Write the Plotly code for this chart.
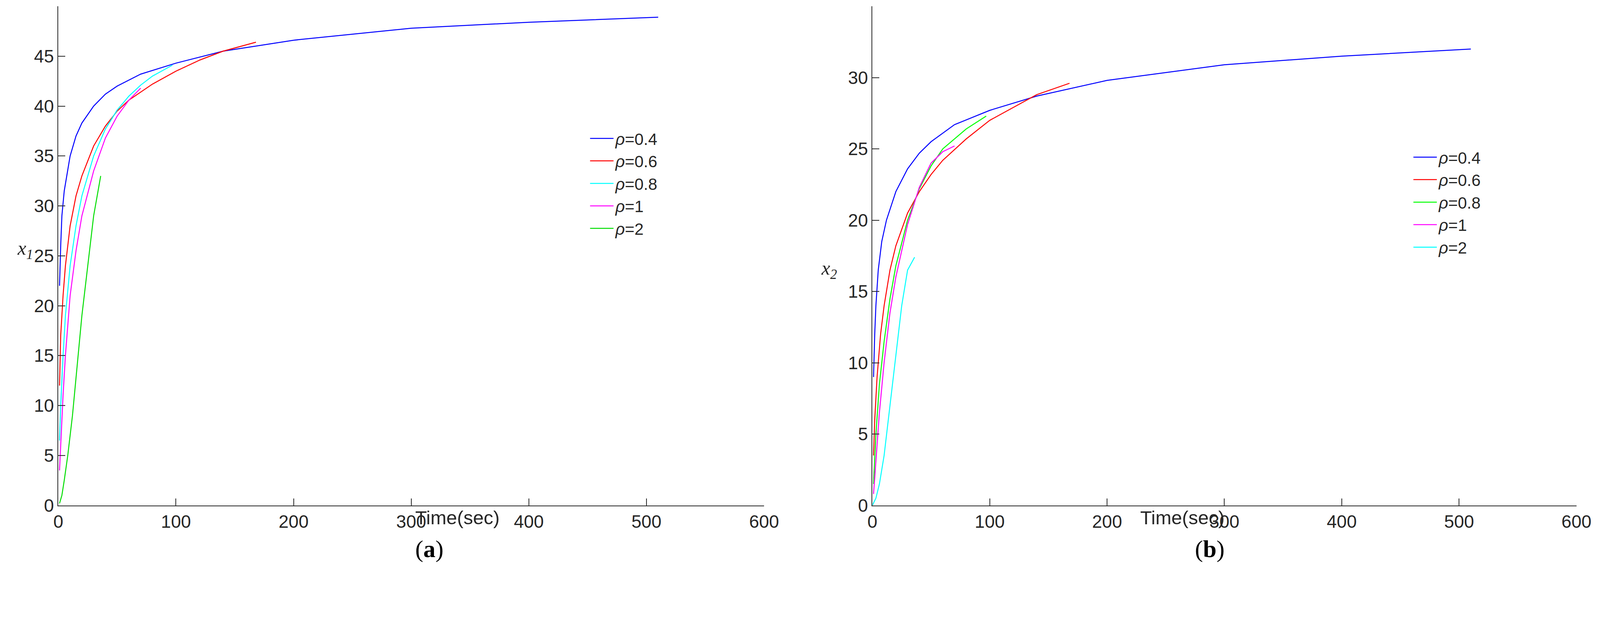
import plotly.graph_objects as go

labels = ["ρ=0.4", "ρ=0.6", "ρ=0.8", "ρ=1", "ρ=2"]

# x1 panel
a_t = [
    [1, 2, 3, 5, 10, 15, 20, 30, 40, 50, 70, 100, 140, 200, 300, 400, 510],
    [1, 2, 4, 6, 10, 15, 20, 30, 40, 50, 60, 80, 100, 120, 140, 168],
    [1, 2, 4, 6, 10, 15, 20, 30, 40, 50, 60, 70, 80, 97],
    [1, 2, 4, 6, 10, 15, 20, 30, 40, 50, 60, 70],
    [1, 3, 5, 8, 12, 16, 20, 25, 30, 36],
]
a_y = [
    [22, 26, 29, 31.5, 35, 37, 38.3, 40, 41.2, 42, 43.2, 44.3, 45.5, 46.6, 47.8, 48.4, 48.9],
    [12, 17, 21, 24, 28, 31, 33, 36, 38, 39.5, 40.6, 42.2, 43.5, 44.6, 45.5, 46.4],
    [6.5, 10, 15, 19, 24, 28, 31, 35, 37.7, 39.6, 41, 42.1, 43, 44.1],
    [3.5, 6, 11, 15, 21, 25.5, 29, 33.5, 36.8, 39, 40.6, 41.8],
    [0.2, 1, 2.5, 5, 9, 14, 19, 24, 29, 33],
]
a_colors = ["#0000ff", "#ff0000", "#00ffff", "#ff00ff", "#00dd00"]

# x2 panel
b_t = [
    [1, 2, 3, 5, 8, 12, 20, 30, 40, 50, 70, 100, 140, 200, 300, 400, 510],
    [1, 2, 4, 7, 10, 15, 20, 30, 40, 50, 60, 80, 100, 120, 140, 168],
    [1, 3, 6, 10, 15, 20, 30, 40, 50, 60, 80, 97],
    [1, 3, 6, 10, 15, 20, 30, 40, 50, 60, 70],
    [0, 3, 6, 10, 15, 20, 25, 30, 36],
]
b_y = [
    [9, 12, 14, 16.5, 18.5, 20, 22, 23.6, 24.7, 25.5, 26.7, 27.7, 28.7, 29.8, 30.9, 31.5, 32],
    [3.5, 6, 9, 12, 14, 16.5, 18.2, 20.5, 22, 23.2, 24.2, 25.7, 27, 27.9, 28.8, 29.6],
    [1.5, 5, 8.5, 11.5, 14.5, 16.8, 20, 22.2, 23.8, 25, 26.4, 27.3],
    [0.8, 3, 6.5, 10, 13.5, 16, 19.7, 22.3, 24, 24.8, 25.2],
    [0, 0.5, 1.5, 3.5, 7, 10.5, 14, 16.5, 17.4],
]
b_colors = ["#0000ff", "#ff0000", "#00ff00", "#ff00ff", "#00ffff"]

fig = go.Figure()
for i in range(5):
    fig.add_trace(go.Scatter(x=a_t[i], y=a_y[i], mode="lines", line=dict(color=a_colors[i], width=2.5),
                             name="<i>ρ</i>" + labels[i][1:], xaxis="x", yaxis="y", legend="legend"))
for i in range(5):
    fig.add_trace(go.Scatter(x=b_t[i], y=b_y[i], mode="lines", line=dict(color=b_colors[i], width=2.5),
                             name="<i>ρ</i>" + labels[i][1:], xaxis="x2", yaxis="y2", legend="legend2"))

ax = dict(showline=True, linecolor="#262626", linewidth=2, ticks="inside", ticklen=18, tickwidth=2,
          tickcolor="#262626", showgrid=False, zeroline=False, mirror=False,
          tickfont=dict(family="Liberation Sans, Arial", size=46, color="#262626"))
ydom = [0.1975, 0.995]
leg = dict(font=dict(family="Liberation Sans, Arial", size=42, color="#262626"), bgcolor="rgba(0,0,0,0)",
           tracegroupgap=0, itemwidth=60, xanchor="left", yanchor="top")
sans = dict(family="Liberation Sans, Arial", size=49, color="#262626")
serif = dict(family="Liberation Serif, Times New Roman", size=62, color="black")
ital = dict(family="Liberation Serif, Times New Roman", size=50, color="#262626")
fig.update_layout(
    width=4233, height=1628, margin=dict(l=0, r=0, t=0, b=0),
    plot_bgcolor="white", paper_bgcolor="white", showlegend=True,
    xaxis=dict(domain=[0.0307, 0.4627], range=[0, 600], dtick=100, anchor="y", **ax),
    yaxis=dict(domain=ydom, range=[0, 50], dtick=5, anchor="x", **ax),
    xaxis2=dict(domain=[0.529, 0.960], range=[0, 600], dtick=100, anchor="y2", **ax),
    yaxis2=dict(domain=ydom, range=[0, 35], dtick=5, anchor="x2", **ax),
    legend=dict(x=0.355, y=0.805, **leg),
    legend2=dict(x=0.859, y=0.775, **leg),
    annotations=[
        dict(text="Time(sec)", x=0.2486, y=0.160, xref="paper", yref="paper", showarrow=False, font=sans),
        dict(text="Time(sec)", x=0.745, y=0.160, xref="paper", yref="paper", showarrow=False, font=sans),
        dict(text="(<b>a</b>)", x=0.2486, y=0.105, xref="paper", yref="paper", showarrow=False, font=serif),
        dict(text="(<b>b</b>)", x=0.745, y=0.105, xref="paper", yref="paper", showarrow=False, font=serif),
        dict(text="<i>x</i><sub><i>1</i></sub>", x=0.0051, y=0.606, xref="paper", yref="paper",
             showarrow=False, font=ital),
        dict(text="<i>x</i><sub><i>2</i></sub>", x=0.5026, y=0.574, xref="paper", yref="paper",
             showarrow=False, font=ital),
    ],
)
fig.write_html("out.html")
